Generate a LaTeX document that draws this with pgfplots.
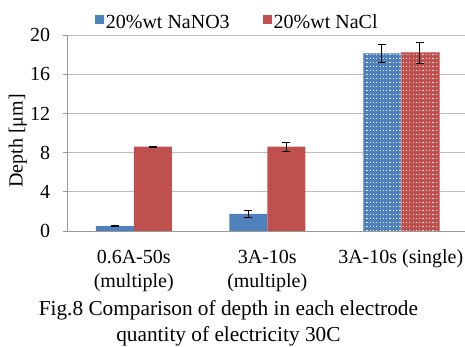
\documentclass[border=0pt]{standalone}
\usepackage{pgfplots}
\pgfplotsset{compat=1.18}
\usepackage{fontspec}
\setmainfont{Liberation Serif}
\usetikzlibrary{patterns}
\definecolor{cblue}{RGB}{79,129,189}
\definecolor{cred}{RGB}{192,80,77}
\definecolor{cgrid}{RGB}{190,190,190}
\pgfdeclarepatternformonly{xdots}{\pgfqpoint{-1pt}{-1pt}}{\pgfqpoint{3pt}{4pt}}{\pgfqpoint{3.3pt}{4pt}}{%
  \pgfpathrectangle{\pgfqpoint{0pt}{0pt}}{\pgfqpoint{1.2pt}{1.2pt}}\pgfusepath{fill}}
\pgfplotsset{myerr/.style={error bars/.cd, y dir=both, y explicit,
  error bar style={black, line width=0.7pt},
  error mark options={black, mark size=4pt, line width=0.7pt, rotate=90}}}
\begin{document}
\fontsize{20}{23}\selectfont
\begin{tikzpicture}
\useasboundingbox (-67pt,-116pt) rectangle (398pt,231pt);
\clip (-67pt,-116pt) rectangle (398pt,231pt);
\begin{axis}[
  x=133.5pt, y=9.8pt,
  xmin=-0.5, xmax=2.5, ymin=0, ymax=20,
  clip mode=individual,
  ybar=0pt, bar width=38pt,
  axis x line*=bottom, axis y line*=left,
  axis line style={draw=gray!80, line width=0.8pt},
  ytick={0,4,8,12,16,20},
  xtick={0,1,2},
  xticklabels={{0.6A-50s\\(multiple)},{3A-10s\\(multiple)},{3A-10s (single)}},
  xticklabel style={align=center, font=\fontsize{20}{24}\selectfont, yshift=-8pt},
  yticklabel style={font=\fontsize{20}{23}\selectfont, xshift=-6pt},
  x tick style={draw=none},
  y tick style={draw=gray!80, line width=0.8pt},
  tick align=outside, major tick length=4pt,
  ymajorgrids, grid style={draw=cgrid, line width=0.8pt},
  /pgf/number format/assume math mode=true,
  ylabel={Depth [μm]},
  ylabel style={at={(axis description cs:-0.123,0.46)}, anchor=center, font=\fontsize{20}{23}\selectfont},
  legend columns=2,
  legend style={at={(axis description cs:0.425,1)}, anchor=south, draw=none, fill=none,
    font=\fontsize{20}{23}\selectfont, inner sep=1pt,
    /tikz/every even column/.append style={column sep=31pt}},
  legend image code/.code={\fill[#1] (0pt,-1pt) rectangle (9pt,8pt);},
]
\addplot[fill=cblue, draw=none, bar shift=-19pt, myerr]
  coordinates {(0,0.5) +- (0,0.05) (1,1.75) +- (0,0.32)};
\addlegendentry{20\%wt NaNO3}
\addplot[fill=cred, draw=none, bar shift=19pt, myerr]
  coordinates {(0,8.6) +- (0,0.05) (1,8.6) +- (0,0.47)};
\addlegendentry{20\%wt NaCl}
\addplot[fill=cblue, draw=cblue!70!white, bar shift=-19pt, forget plot,
  postaction={pattern=xdots, pattern color=white!85!cblue}, myerr]
  coordinates {(2,18.1) +- (0,0.9)};
\addplot[fill=cred, draw=cred!70!white, bar shift=19pt, forget plot,
  postaction={pattern=xdots, pattern color=white!85!cred}, myerr]
  coordinates {(2,18.2) +- (0,1.05)};
\node[font=\fontsize{21.3}{26}\selectfont, align=center, anchor=base]
  at (axis description cs:0.403,-0.566) {Fig.8 Comparison of depth in each electrode\\quantity of electricity 30C};
\end{axis}
\end{tikzpicture}
\end{document}
